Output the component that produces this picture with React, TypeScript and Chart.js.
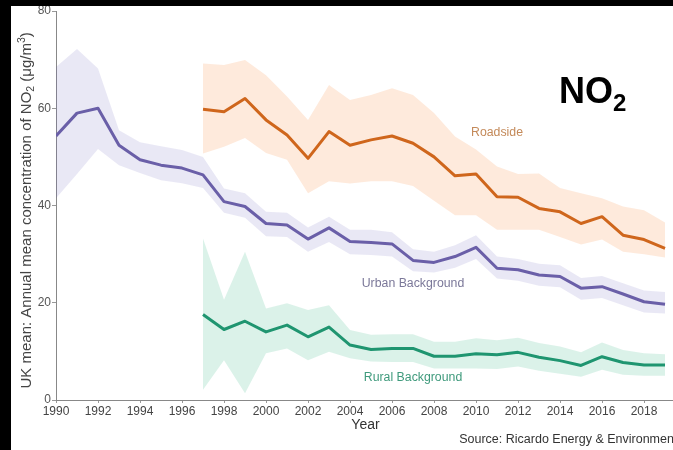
import React, { useEffect, useRef } from "react";
import { Chart, registerables } from "chart.js";

Chart.register(...registerables);

// ---- data ----
const years = [1990, 1991, 1992, 1993, 1994, 1995, 1996, 1997, 1998, 1999, 2000, 2001, 2002, 2003, 2004, 2005, 2006, 2007, 2008, 2009, 2010, 2011, 2012, 2013, 2014, 2015, 2016, 2017, 2018, 2019];
const lateYears = [1997, 1998, 1999, 2000, 2001, 2002, 2003, 2004, 2005, 2006, 2007, 2008, 2009, 2010, 2011, 2012, 2013, 2014, 2015, 2016, 2017, 2018, 2019];

const urbanMean = [54.3, 59.0, 60.0, 52.4, 49.4, 48.3, 47.7, 46.3, 40.8, 39.8, 36.3, 36.0, 33.1, 35.4, 32.6, 32.4, 32.1, 28.7, 28.3, 29.5, 31.4, 27.1, 26.8, 25.7, 25.4, 23.0, 23.3, 21.8, 20.2, 19.7];
const urbanUpper = [68.5, 72.2, 68.2, 55.5, 53.0, 52.2, 51.4, 50.0, 43.5, 42.5, 38.7, 38.5, 35.5, 37.7, 35.0, 35.0, 34.5, 31.0, 30.5, 31.8, 33.9, 29.5, 29.0, 28.0, 27.7, 25.1, 25.5, 24.0, 22.5, 22.2];
const urbanLower = [41.5, 46.5, 51.6, 48.3, 46.7, 45.2, 44.6, 43.6, 38.5, 37.5, 33.7, 33.5, 30.5, 32.5, 30.0, 29.8, 29.5, 26.5, 26.2, 27.2, 29.0, 25.0, 24.5, 23.5, 23.2, 20.6, 21.0, 19.5, 18.0, 17.8];

const roadsideMean = [59.8, 59.3, 62.0, 57.6, 54.5, 49.7, 55.2, 52.4, 53.5, 54.3, 52.8, 50.0, 46.1, 46.5, 41.8, 41.7, 39.4, 38.7, 36.3, 37.7, 33.9, 33.0, 31.2];
const roadsideUpper = [69.2, 68.9, 69.9, 66.8, 62.4, 57.6, 64.8, 61.7, 62.7, 64.1, 62.7, 59.0, 54.2, 51.5, 48.0, 46.5, 46.6, 43.6, 42.5, 41.5, 39.8, 39.0, 36.5];
const roadsideLower = [50.7, 52.1, 53.9, 50.8, 49.4, 42.5, 45.0, 44.5, 45.0, 45.0, 44.0, 41.0, 38.0, 38.0, 35.0, 35.0, 35.0, 33.5, 32.0, 33.0, 30.5, 30.0, 29.3];

const ruralMean = [17.6, 14.5, 16.2, 14.0, 15.4, 13.0, 15.0, 11.3, 10.4, 10.6, 10.6, 9.0, 9.0, 9.5, 9.3, 9.8, 8.8, 8.1, 7.1, 8.9, 7.7, 7.2, 7.2];
const ruralUpper = [33.2, 20.6, 30.5, 18.8, 19.9, 18.5, 19.5, 14.4, 13.4, 13.5, 13.5, 12.0, 12.0, 12.7, 12.3, 12.8, 11.7, 11.0, 9.8, 11.8, 10.3, 9.6, 9.4];
const ruralLower = [2.1, 8.2, 1.4, 9.6, 10.6, 8.2, 9.9, 8.6, 7.9, 7.8, 7.8, 6.5, 6.5, 6.5, 6.4, 6.9, 6.0, 5.4, 4.8, 6.2, 5.2, 5.0, 5.0];

const yTicks = [0, 20, 40, 60, 80];
const xTickYears = [1990, 1992, 1994, 1996, 1998, 2000, 2002, 2004, 2006, 2008, 2010, 2012, 2014, 2016, 2018];

const seriesLabels = [
  { text: "Roadside", x: 2011.0, y: 54.9, color: "#c48a5a" },
  { text: "Urban Background", x: 2007.0, y: 23.9, color: "#7b7899" },
  { text: "Rural Background", x: 2007.0, y: 4.7, color: "#3f9a7c" },
];

const FONT = "'Liberation Sans', Arial, sans-serif";

const pts = (xs: number[], ys: number[]) => xs.map((x, i) => ({ x, y: ys[i] }));

type Part = { t: string; size: number; dy: number; bold?: boolean };

function drawRich(ctx: CanvasRenderingContext2D, parts: Part[], x: number, y: number, align: "left" | "center") {
  let total = 0;
  const widths = parts.map((p) => {
    ctx.font = `${p.bold ? "bold " : ""}${p.size}px ${FONT}`;
    const w = ctx.measureText(p.t).width;
    total += w;
    return w;
  });
  let cx = align === "center" ? x - total / 2 : x;
  ctx.textAlign = "left";
  ctx.textBaseline = "alphabetic";
  parts.forEach((p, i) => {
    ctx.font = `${p.bold ? "bold " : ""}${p.size}px ${FONT}`;
    ctx.fillText(p.t, cx, y + p.dy);
    cx += widths[i];
  });
}

const textPlugin = {
  id: "annotTexts",
  afterDraw(chart: any) {
    const { ctx, scales, chartArea } = chart;
    const xs = scales.x;
    const ys = scales.y;
    ctx.save();
    // y axis title (rotated)
    ctx.save();
    ctx.translate(20, ys.getPixelForValue(39));
    ctx.rotate(-Math.PI / 2);
    ctx.fillStyle = "#444";
    drawRich(
      ctx,
      [
        { t: "UK mean: Annual mean concentration of NO", size: 15, dy: 0 },
        { t: "2", size: 10.5, dy: 3 },
        { t: " (\u03bcg/m", size: 15, dy: 0 },
        { t: "3", size: 10.5, dy: -6 },
        { t: ")", size: 15, dy: 0 },
      ],
      0,
      0,
      "center"
    );
    ctx.restore();

    // x axis title
    ctx.fillStyle = "#333";
    ctx.font = `14px ${FONT}`;
    ctx.textAlign = "center";
    ctx.textBaseline = "middle";
    ctx.fillText("Year", (chartArea.left + chartArea.right) / 2 + 1, chartArea.bottom + 25);

    // source
    ctx.fillStyle = "#333";
    ctx.font = `12.5px ${FONT}`;
    ctx.textAlign = "left";
    ctx.textBaseline = "middle";
    ctx.fillText("Source: Ricardo Energy & Environment", xs.getPixelForValue(2009.2), chartArea.bottom + 40);

    // series labels
    seriesLabels.forEach((l) => {
      ctx.fillStyle = l.color;
      ctx.font = `12.3px ${FONT}`;
      ctx.textAlign = "center";
      ctx.textBaseline = "middle";
      ctx.fillText(l.text, xs.getPixelForValue(l.x), ys.getPixelForValue(l.y));
    });

    // NO2 heading
    ctx.fillStyle = "#000";
    drawRich(
      ctx,
      [
        { t: "NO", size: 36, dy: 0, bold: true },
        { t: "2", size: 24, dy: 8, bold: true },
      ],
      xs.getPixelForValue(2013.95),
      ys.getPixelForValue(61.1),
      "left"
    );
    ctx.restore();
  },
};

export default function App() {
  const ref = useRef<HTMLCanvasElement>(null);

  useEffect(() => {
    if (!ref.current) return;
    const band = (data: { x: number; y: number }[], color: string, fill: any) => ({
      data,
      borderWidth: 0,
      pointRadius: 0,
      backgroundColor: color,
      borderColor: "transparent",
      fill,
      tension: 0,
    });
    const line = (data: { x: number; y: number }[], color: string) => ({
      data,
      borderWidth: 3,
      pointRadius: 0,
      borderColor: color,
      backgroundColor: color,
      fill: false,
      tension: 0,
      borderJoinStyle: "round" as const,
      borderCapStyle: "butt" as const,
    });

    const chart = new Chart(ref.current, {
      type: "line",
      data: {
        datasets: [
          band(pts(lateYears, roadsideUpper), "rgba(248,150,80,0.2)", "+1"),
          band(pts(lateYears, roadsideLower), "rgba(248,150,80,0.2)", false),
          band(pts(years, urbanUpper), "rgba(110,100,190,0.15)", "+1"),
          band(pts(years, urbanLower), "rgba(110,100,190,0.15)", false),
          band(pts(lateYears, ruralUpper), "rgba(40,175,125,0.17)", "+1"),
          band(pts(lateYears, ruralLower), "rgba(40,175,125,0.17)", false),
          line(pts(lateYears, roadsideMean), "#cf661c"),
          line(pts(years, urbanMean), "#6a5fa8"),
          line(pts(lateYears, ruralMean), "#1f9570"),
        ] as any,
      },
      options: {
        animation: false,
        responsive: true,
        maintainAspectRatio: false,
        events: [],
        layout: { autoPadding: false, padding: { top: 5, left: 0, right: 0, bottom: 0 } } as any,
        plugins: {
          legend: { display: false },
          tooltip: { enabled: false },
          title: { display: false },
          filler: { drawTime: "beforeDatasetsDraw" } as any,
        },
        scales: {
          x: {
            type: "linear",
            min: 1990,
            max: 2019.38,
            afterFit: (s: any) => {
              s.height = 50;
              s.paddingLeft = 0;
              s.paddingRight = 0;
            },
            afterBuildTicks: (s: any) => {
              s.ticks = xTickYears.map((v) => ({ value: v }));
            },
            ticks: {
              autoSkip: false,
              maxRotation: 0,
              padding: 1,
              color: "#444",
              font: { family: FONT, size: 12 },
              callback: (v: any) => String(v),
            },
            grid: { drawOnChartArea: false, drawTicks: true, tickLength: 3, color: "#999" },
            border: { display: true, color: "#888", width: 1 },
          },
          y: {
            type: "linear",
            min: 0,
            max: 80,
            afterFit: (s: any) => {
              s.width = 45;
              s.paddingTop = 0;
              s.paddingBottom = 0;
            },
            afterBuildTicks: (s: any) => {
              s.ticks = yTicks.map((v) => ({ value: v }));
            },
            ticks: {
              padding: 1,
              color: "#555",
              font: { family: FONT, size: 12 },
              callback: (v: any) => String(v),
            },
            grid: { drawOnChartArea: false, drawTicks: true, tickLength: 4, color: "#999" },
            border: { display: true, color: "#888", width: 1 },
          },
        },
      },
      plugins: [textPlugin],
    });
    return () => chart.destroy();
  }, []);

  return (
    <div style={{ position: "fixed", left: 0, top: 0, width: 673, height: 450, background: "#000", overflow: "hidden" }}>
      <div style={{ position: "absolute", left: 11, top: 6, width: 662, height: 444, background: "#fff" }}>
        <canvas ref={ref} />
      </div>
    </div>
  );
}
